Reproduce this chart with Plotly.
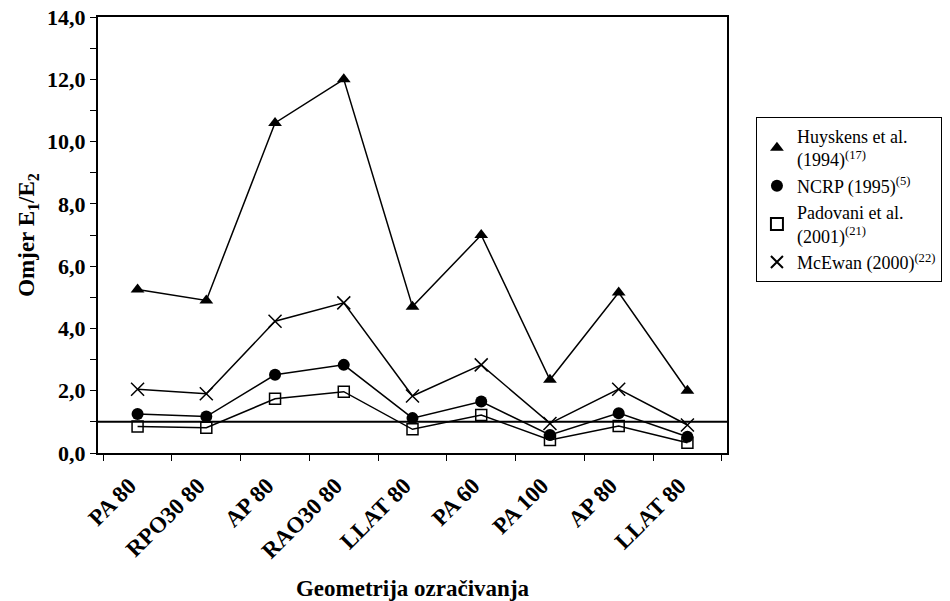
import plotly.graph_objects as go

categories = ["PA 80", "RPO30 80", "AP 80", "RAO30 80", "LLAT 80", "PA 60", "PA 100", "AP 80 ", "LLAT 80 "]
tick_labels = ["PA 80", "RPO30 80", "AP 80", "RAO30 80", "LLAT 80", "PA 60", "PA 100", "AP 80", "LLAT 80"]
huyskens = [5.25, 4.9, 10.6, 12.0, 4.7, 7.0, 2.35, 5.15, 2.0]
ncrp = [1.25, 1.17, 2.51, 2.83, 1.12, 1.65, 0.58, 1.28, 0.52]
padovani = [0.85, 0.81, 1.74, 1.97, 0.76, 1.22, 0.42, 0.87, 0.33]
mcewan = [2.05, 1.9, 4.23, 4.82, 1.83, 2.83, 0.95, 2.05, 0.9]
reference_level = 1.0

series = [
    ("Huyskens et al.<br>(1994)<sup>(17)</sup>", huyskens, dict(symbol="triangle-up", size=12, color="black")),
    ("NCRP (1995)<sup>(5)</sup>", ncrp, dict(symbol="circle", size=12, color="black")),
    ("Padovani et al.<br>(2001)<sup>(21)</sup>", padovani, dict(symbol="square-open", size=11, color="black", line=dict(width=1.5, color="black"))),
    ("McEwan (2000)<sup>(22)</sup>", mcewan, dict(symbol="x-thin", size=13, color="black", line=dict(width=1.5, color="black"))),
]

fig = go.Figure()
for name, vals, mk in series:
    fig.add_trace(go.Scatter(x=categories, y=vals, mode="lines", line=dict(color="black", width=1.5),
                             showlegend=False, hoverinfo="skip"))
for name, vals, mk in series:
    fig.add_trace(go.Scatter(x=categories, y=vals, mode="markers", marker=mk, name=name))

fig.add_shape(type="line", xref="paper", yref="y", x0=0, x1=1, y0=reference_level, y1=reference_level,
              line=dict(color="black", width=2))

serif = "Times New Roman, Liberation Serif, serif"
fig.update_layout(
    width=950, height=601,
    margin=dict(l=98, r=223, t=17, b=148, autoexpand=False),
    paper_bgcolor="white", plot_bgcolor="white",
    separators=",.",
    font=dict(family=serif, color="black", size=18),
    showlegend=True,
    legend=dict(x=1.046, y=0.771, xanchor="left", yanchor="top",
                bordercolor="black", borderwidth=1, bgcolor="white",
                font=dict(family=serif, size=18, color="black"),
                tracegroupgap=0, itemsizing="constant"),
    xaxis=dict(type="category", tickson="boundaries", ticks="outside", ticklen=6, tickcolor="black",
               tickvals=categories, ticktext=[t + "\u00a0\u00a0" for t in tick_labels],
               showline=True, linecolor="black", linewidth=2, mirror=True, showgrid=False, automargin=False,
               tickangle=-45, tickfont=dict(family=serif, size=23, color="black", weight="bold"),
               title=dict(text="Geometrija ozračivanja", font=dict(family=serif, size=23, weight="bold"), standoff=22)),
    yaxis=dict(range=[0, 14], dtick=2, tickformat=".1f", ticks="outside", ticklen=6, tickcolor="black",
               minor=dict(dtick=1, ticks="outside", ticklen=6, tickcolor="black"),
               showline=True, linecolor="black", linewidth=2, mirror=True, showgrid=False, zeroline=False,
               automargin=False, ticklabeloverflow="allow",
               tickfont=dict(family=serif, size=22, color="black", weight="bold"),
               title=dict(text="Omjer E<sub>1</sub>/E<sub>2</sub>", font=dict(family=serif, size=23, weight="bold"), standoff=6)),
)

fig.write_html("out.html", config={"displayModeBar": False},
               post_script="document.body.style.margin='0px';")
